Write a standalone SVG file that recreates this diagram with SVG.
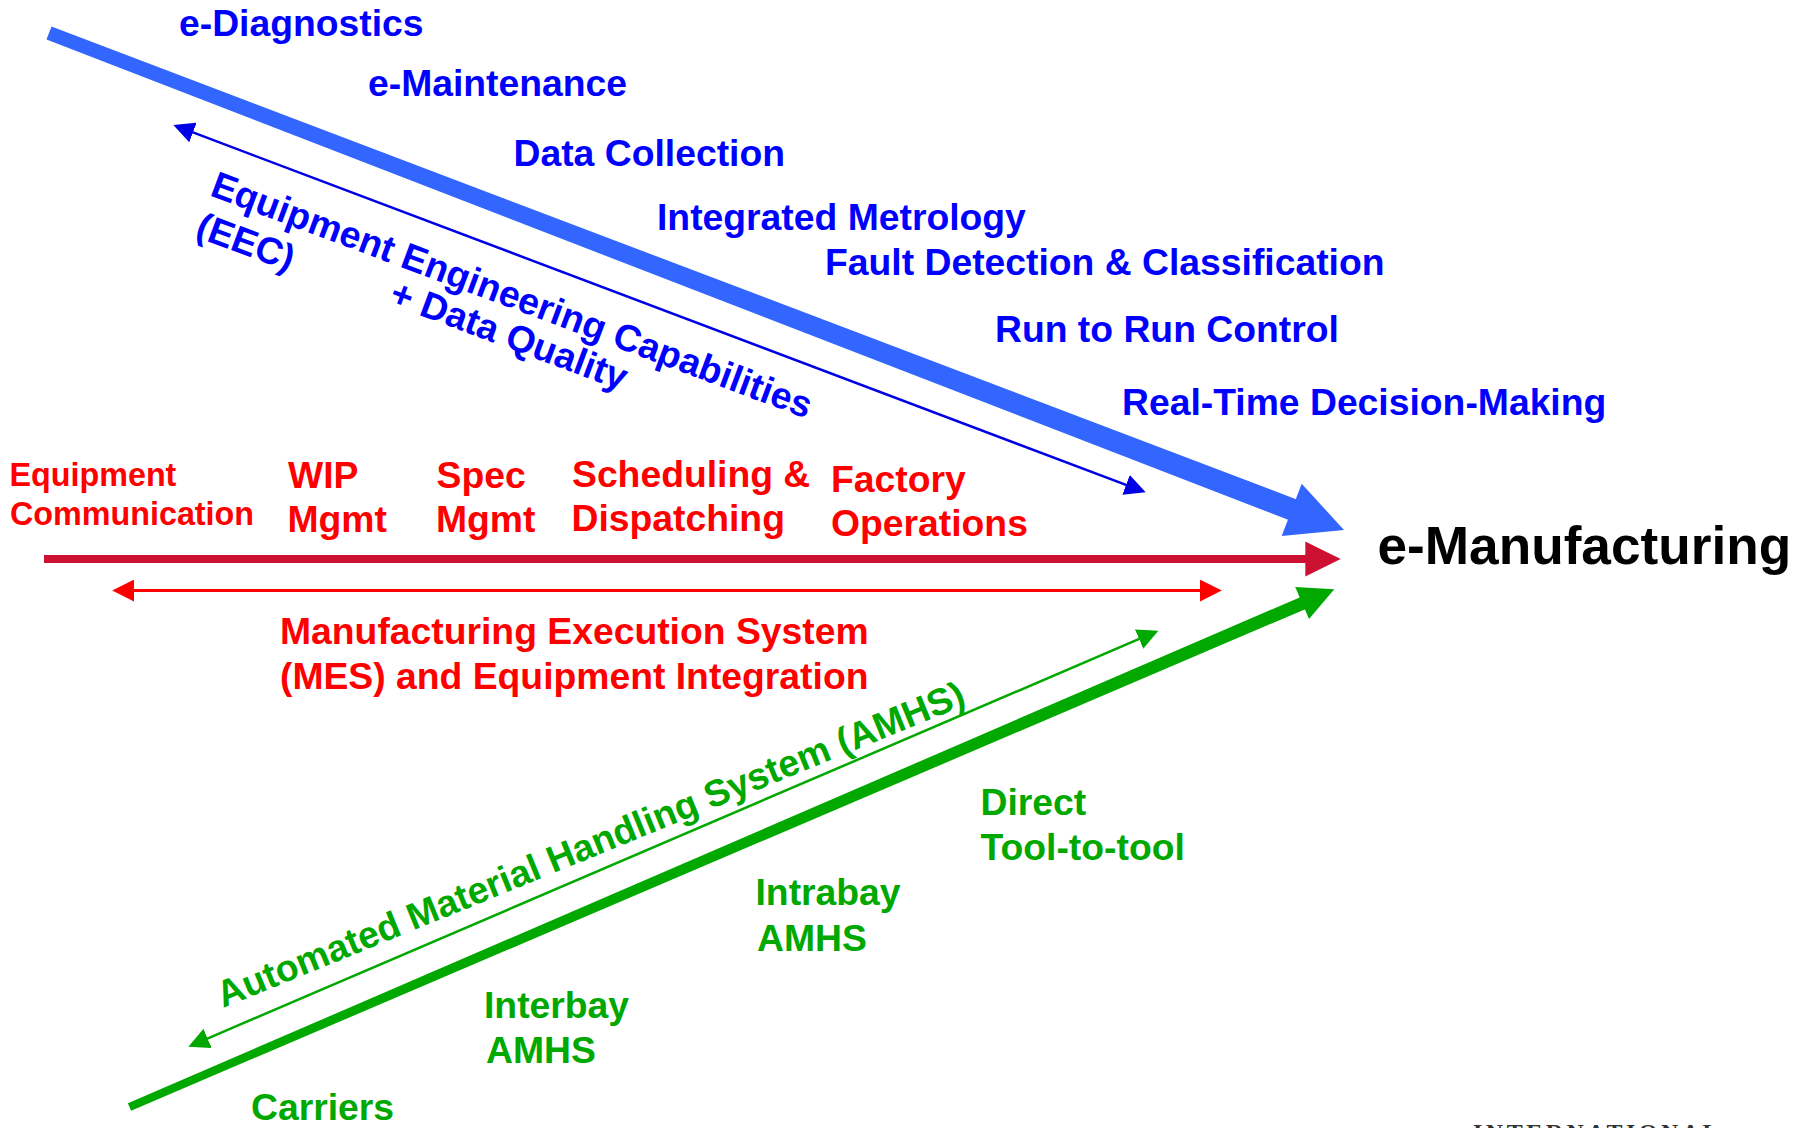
<svg xmlns="http://www.w3.org/2000/svg" width="1810" height="1128" viewBox="0 0 1810 1128">
<style>
text{font-family:"Liberation Sans",Arial,sans-serif;font-weight:bold;font-size:37.3px}
.b{fill:#0000FF}
.r{fill:#FF0000}
.g{fill:#00A800}
.k{fill:#000000;font-size:53.2px}
.sm{font-size:32.3px}
.thinb{stroke:#0000E6;stroke-width:2.5;fill:none}
.thinr{stroke:#FF0000;stroke-width:3;fill:none}
.thing{stroke:#00A800;stroke-width:2.5;fill:none}
</style>
<defs>
<marker id="mb" viewBox="0 0 20 20" refX="2" refY="10" markerUnits="userSpaceOnUse" markerWidth="21" markerHeight="21" orient="auto-start-reverse"><path d="M0,0 L20,10 L0,20 z" fill="#0000E6"/></marker>
<marker id="mr" viewBox="0 0 20 20" refX="2" refY="10" markerUnits="userSpaceOnUse" markerWidth="22" markerHeight="22" orient="auto-start-reverse"><path d="M0,0 L20,10 L0,20 z" fill="#FF0000"/></marker>
<marker id="mg" viewBox="0 0 20 20" refX="2" refY="10" markerUnits="userSpaceOnUse" markerWidth="21" markerHeight="21" orient="auto-start-reverse"><path d="M0,0 L20,10 L0,20 z" fill="#00A800"/></marker>
</defs>
<rect width="1810" height="1128" fill="#FFFFFF"/>
<g id="connectors">
<g id="blue-main">
<polygon points="46.5,39.5 51.5,26.5 1300,500.7 1292,521.3" fill="#3366FF"/>
<polygon points="1344,530 1301.7,483.8 1281.7,536" fill="#3366FF"/>
</g>
<line id="eec-arrow" class="thinb" x1="191" y1="131.7" x2="1128" y2="485.6" marker-start="url(#mb)" marker-end="url(#mb)"/>
<g id="red-main">
<rect x="44" y="555" width="1266" height="8" fill="#CC1133"/>
<polygon points="1305.3,541.5 1340.7,559 1305.3,576.5" fill="#CC1133"/>
</g>
<line id="mes-arrow" class="thinr" x1="132" y1="590.5" x2="1202" y2="590.5" marker-start="url(#mr)" marker-end="url(#mr)"/>
<g id="green-main">
<polygon points="131.1,1110.7 127.9,1103.3 1303.1,595.9 1308.2,607.9" fill="#00A800"/>
<polygon points="1334.3,589.3 1295.2,586.9 1309,619.1" fill="#00A800"/>
</g>
<line id="amhs-arrow" class="thing" x1="205.7" y1="1039.3" x2="1141" y2="638.2" marker-start="url(#mg)" marker-end="url(#mg)"/>
</g>
<g id="e-manufacturing"><text class="k" x="1377.5" y="563.5">e-Manufacturing</text></g>
<g id="blue-labels">
<g id="e-diagnostics"><text class="b" x="179" y="36">e-Diagnostics</text></g>
<g id="e-maintenance"><text class="b" x="368" y="96">e-Maintenance</text></g>
<g id="data-collection"><text class="b" x="513.5" y="165.5">Data Collection</text></g>
<g id="integrated-metrology"><text class="b" x="657" y="229.5">Integrated Metrology</text></g>
<g id="fdc"><text class="b" x="825" y="275">Fault Detection &amp; Classification</text></g>
<g id="r2r"><text class="b" x="995" y="342">Run to Run Control</text></g>
<g id="rtdm"><text class="b" x="1122" y="415">Real-Time Decision-Making</text></g>
<g id="eec" transform="translate(211,196) rotate(20.5)">
<text class="b" x="-2.5" y="0">Equipment Engineering Capabilities</text>
<text class="b" x="-2" y="43.5">(EEC)</text>
<text class="b" x="203" y="38.5">+ Data Quality</text>
</g>
</g>
<g id="red-labels">
<g id="equip-comm"><text class="r sm" x="9.5" y="486">Equipment</text><text class="r sm" x="10" y="524.5">Communication</text></g>
<g id="wip"><text class="r" x="288" y="487.5">WIP</text><text class="r" x="287.5" y="532">Mgmt</text></g>
<g id="spec"><text class="r" x="436.5" y="487.5">Spec</text><text class="r" x="436" y="532">Mgmt</text></g>
<g id="sched"><text class="r" x="572" y="487">Scheduling &amp;</text><text class="r" x="571.5" y="531">Dispatching</text></g>
<g id="factory"><text class="r" x="831" y="491.5">Factory</text><text class="r" x="831" y="535.5">Operations</text></g>
<g id="mes"><text class="r" x="280" y="644">Manufacturing Execution System</text><text class="r" x="280" y="689">(MES) and Equipment Integration</text></g>
</g>
<g id="green-labels">
<g id="amhs" transform="translate(223,1008) rotate(-22.2)"><text class="g" x="0" y="0">Automated Material Handling System (AMHS)</text></g>
<g id="direct"><text class="g" x="980.5" y="815">Direct</text><text class="g" x="980.5" y="859.5">Tool-to-tool</text></g>
<g id="intrabay"><text class="g" x="755.5" y="905">Intrabay</text><text class="g" x="757" y="951">AMHS</text></g>
<g id="interbay"><text class="g" x="484" y="1018">Interbay</text><text class="g" x="486" y="1063">AMHS</text></g>
<g id="carriers"><text class="g" x="251" y="1120">Carriers</text></g>
</g>
<text x="1473" y="1140" style="font-family:'Liberation Serif','Times New Roman',serif;font-weight:bold;font-size:24px;letter-spacing:3.5px;fill:#333333">INTERNATIONAL</text>
</svg>
